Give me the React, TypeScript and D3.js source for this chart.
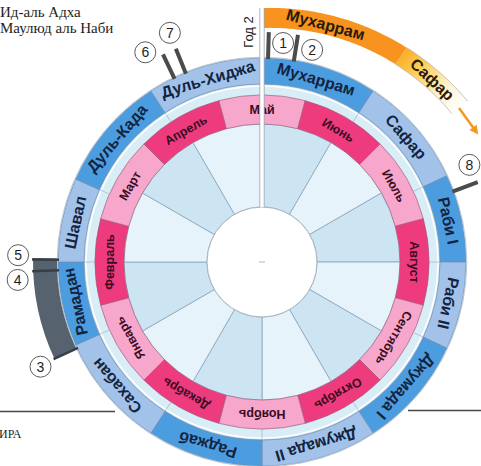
import React, { useEffect, useRef } from 'react';
import * as d3 from 'd3';

// Gregorian months in the pink ring, clockwise from the top
const GREGORIAN = ['Май', 'Июнь', 'Июль', 'Август', 'Сентябрь', 'Октябрь', 'Ноябрь', 'Декабрь', 'Январь', 'Февраль', 'Март', 'Апрель'];
// Hijri months in the blue ring and their edges (degrees clockwise from the top)
const HIJRI = ['Мухаррам', 'Сафар', 'Раби I', 'Раби II', 'Джумада I', 'Джумада II', 'Раджаб', 'Сахабан', 'Рамадан', 'Шавал', 'Дуль-Када', 'Дуль-Хиджа'];
const HIJRI_EDGES = [0, 33, 65, 90, 115, 147, 180, 213, 246, 270, 294, 327, 360];
// start of the second lunar year (outer orange band)
const YEAR2 = ['Мухаррам', 'Сафар'];
const YEAR2_EDGES = [0, 34, 52];
// the dark Ramadan block
const RAMADAN_SPAN = [245, 271];
// numbered events: bar angle, label angle, label distance
const MARKERS = [
  { n: '1', at: 1.7, labelAt: 5.5, labelR: 220 },
  { n: '2', at: 9, labelAt: 13.3, labelR: 218 },
  { n: '3', at: 245, labelAt: 244.7, labelR: 245 },
  { n: '4', at: 267.7, labelAt: 265.8, labelR: 245 },
  { n: '5', at: 270.6, labelAt: 271.6, labelR: 244 },
  { n: '6', at: 334.5, labelAt: 330.9, labelR: 240 },
  { n: '7', at: 338, labelAt: 338.1, labelR: 247 },
  { n: '8', at: 69.7, labelAt: 64.9, labelR: 229 },
];
const NOTES = ['Ид-аль Адха', 'Маулюд аль Наби'];

const SANS = 'Liberation Sans, Arial, sans-serif';
const NARROW = 'Liberation Sans Narrow, Arial Narrow, Liberation Sans, sans-serif';
const SERIF = 'Liberation Serif, Times New Roman, serif';

export default function App() {
  const ref = useRef<SVGSVGElement>(null);

  useEffect(() => {
    const svgEl = ref.current;
    if (!svgEl) return;
    const svg = d3.select(svgEl);
    svg.selectAll('*').remove();

    const cx = 262;
    const cy = 262;
    const ang = d3.scaleLinear().domain([0, 360]).range([0, 2 * Math.PI]);
    const R = { hole: 55, wedge: 138, pinkOut: 167, blueIn: 178, blueOut: 204, barIn: 205, barOut: 230 };

    // gradient lives in the centred group's coordinates
    const defs = svg.append('defs');
    const grad = defs
      .append('linearGradient')
      .attr('id', 'safar')
      .attr('gradientUnits', 'userSpaceOnUse')
      .attr('x1', 140)
      .attr('y1', -218)
      .attr('x2', 200)
      .attr('y2', -158);
    grad.append('stop').attr('offset', 0).attr('stop-color', '#f9a320');
    grad.append('stop').attr('offset', 0.3).attr('stop-color', '#fcc94a');
    grad.append('stop').attr('offset', 0.7).attr('stop-color', '#fef0c8');
    grad.append('stop').attr('offset', 1).attr('stop-color', '#ffffff');

    // notes top-left
    svg
      .append('g')
      .selectAll('text')
      .data(NOTES)
      .join('text')
      .attr('x', 0)
      .attr('y', (_, i) => 17 + i * 16)
      .attr('font-family', SERIF)
      .attr('font-size', 15)
      .attr('fill', '#1e1e1e')
      .text((d) => d);

    // bottom rules
    svg.append('line').attr('x1', 0).attr('x2', 115).attr('y1', 411.5).attr('y2', 411.5).attr('stroke', '#4a4646').attr('stroke-width', 1.5);
    svg.append('line').attr('x1', 408).attr('x2', 481).attr('y1', 410.5).attr('y2', 410.5).attr('stroke', '#4a4646').attr('stroke-width', 1.5);
    svg.append('text').attr('x', -1).attr('y', 438).attr('font-family', SERIF).attr('font-size', 12).attr('fill', '#1e1e1e').text('ИРА');

    const g = svg.append('g').attr('transform', `translate(${cx},${cy})`);
    const arc = d3.arc<any>();

    // inner wedges
    const wedges = d3.range(12).map((i) => ({ s: i * 30, e: (i + 1) * 30, i }));
    g.selectAll('path.wedge')
      .data(wedges)
      .join('path')
      .attr('class', 'wedge')
      .attr('d', (d) => arc({ innerRadius: R.hole, outerRadius: R.wedge, startAngle: ang(d.s), endAngle: ang(d.e) }))
      .attr('fill', (d) => (d.i % 2 === 0 ? '#cde4f3' : '#e6f3fa'))
      .attr('stroke', '#8aa3ba')
      .attr('stroke-width', 0.8);

    // pale band between pink and blue
    g.append('path')
      .attr('d', arc({ innerRadius: R.pinkOut, outerRadius: R.blueIn, startAngle: 0, endAngle: 2 * Math.PI }))
      .attr('fill', '#d9edf7')
      .attr('stroke', '#a9c0d0')
      .attr('stroke-width', 0.6);
    g.append('circle').attr('r', R.blueIn - 2).attr('fill', 'none').attr('stroke', '#ffffff').attr('stroke-width', 1.5);

    // pink ring (Gregorian)
    const greg = GREGORIAN.map((m, i) => ({ m, i, s: i * 30 - 15, e: i * 30 + 15 }));
    g.selectAll('path.greg')
      .data(greg)
      .join('path')
      .attr('class', 'greg')
      .attr('d', (d) => arc({ innerRadius: R.wedge, outerRadius: R.pinkOut, startAngle: ang(d.s), endAngle: ang(d.e) }))
      .attr('fill', (d) => (d.i % 2 === 0 ? '#f7a6cc' : '#ee3b7e'))
      .attr('stroke', '#9a5a76')
      .attr('stroke-width', 0.6);
    g.selectAll('text.greg')
      .data(greg)
      .join('text')
      .attr('class', 'greg')
      .attr('transform', (d) => `rotate(${(d.s + d.e) / 2}) translate(0,${-(R.wedge + R.pinkOut) / 2})`)
      .attr('text-anchor', 'middle')
      .attr('dy', '0.36em')
      .attr('font-family', NARROW)
      .attr('font-size', 12.5)
      .attr('font-weight', 700)
      .attr('fill', '#3a0c20')
      .text((d) => d.m);

    // blue ring (Hijri)
    const hijri = HIJRI.map((m, i) => ({ m, i, s: HIJRI_EDGES[i], e: HIJRI_EDGES[i + 1] }));
    g.selectAll('line.hedge')
      .data(HIJRI_EDGES.slice(1, -1))
      .join('line')
      .attr('class', 'hedge')
      .attr('x1', (d) => d3.pointRadial(ang(d), R.pinkOut)[0])
      .attr('y1', (d) => d3.pointRadial(ang(d), R.pinkOut)[1])
      .attr('x2', (d) => d3.pointRadial(ang(d), R.blueIn)[0])
      .attr('y2', (d) => d3.pointRadial(ang(d), R.blueIn)[1])
      .attr('stroke', '#9db3c4')
      .attr('stroke-width', 0.7);
    g.selectAll('path.hijri')
      .data(hijri)
      .join('path')
      .attr('class', 'hijri')
      .attr('d', (d) => arc({ innerRadius: R.blueIn, outerRadius: R.blueOut, startAngle: ang(d.s), endAngle: ang(d.e) }))
      .attr('fill', (d) => (d.i % 2 === 0 ? '#4c9de0' : '#a2c2ea'))
      .attr('stroke', '#6d8db0')
      .attr('stroke-width', 0.7);
    g.append('circle').attr('r', R.blueOut + 0.8).attr('fill', 'none').attr('stroke', '#b9c6d2').attr('stroke-width', 1);
    g.selectAll('text.hijri')
      .data(hijri)
      .join('text')
      .attr('class', 'hijri')
      .attr('transform', (d) => `rotate(${(d.s + d.e) / 2}) translate(0,${-(R.blueIn + R.blueOut) / 2})`)
      .attr('text-anchor', 'middle')
      .attr('dy', '0.36em')
      .attr('font-family', NARROW)
      .attr('font-size', 16)
      .attr('font-weight', 700)
      .attr('fill', '#132440')
      .text((d) => d.m);

    // center hole
    g.append('circle').attr('r', R.hole).attr('fill', '#ffffff').attr('stroke', '#a9b4bf').attr('stroke-width', 1);
    g.append('line').attr('x1', -3).attr('x2', 3).attr('stroke', '#9aa').attr('stroke-width', 0.8);

    // Ramadan block
    g.append('path')
      .attr('d', arc({ innerRadius: R.barIn, outerRadius: R.barOut - 1, startAngle: ang(RAMADAN_SPAN[0]), endAngle: ang(RAMADAN_SPAN[1]) }))
      .attr('fill', '#56636f');

    // year 2 band
    const rIn = (a: number) => 234 + (7 * a) / 52;
    const band = d3
      .areaRadial<number>()
      .angle((a) => ang(a))
      .innerRadius((a) => rIn(a))
      .outerRadius((a) => rIn(a) + 20);
    const year2 = YEAR2.map((m, i) => ({ m, i, s: YEAR2_EDGES[i], e: YEAR2_EDGES[i + 1] }));
    g.selectAll('path.y2')
      .data(year2)
      .join('path')
      .attr('class', 'y2')
      .attr('d', (d) => band(d3.range(d.s, d.e + 0.01, 0.5)))
      .attr('fill', (d) => (d.i === 0 ? '#f7931e' : 'url(#safar)'));
    const edge = d3.lineRadial<number>().angle((a) => ang(a));
    [0, 20].forEach((off) => {
      g.append('path')
        .attr('d', edge.radius((a) => rIn(a) + off)(d3.range(YEAR2_EDGES[1], YEAR2_EDGES[2] + 0.01, 0.5)))
        .attr('fill', 'none')
        .attr('stroke', '#b4b4b4')
        .attr('stroke-width', 0.8);
    });
    g.selectAll('text.y2')
      .data(year2)
      .join('text')
      .attr('class', 'y2')
      .attr('transform', (d) => {
        const mid = d.i === 0 ? 15 : 43;
        return `rotate(${mid}) translate(0,${-(rIn(mid) + 10)})`;
      })
      .attr('text-anchor', 'middle')
      .attr('dy', '0.36em')
      .attr('font-family', NARROW)
      .attr('font-size', 16)
      .attr('font-weight', 700)
      .attr('fill', '#2a1a08')
      .text((d) => d.m);

    // direction arrow
    const a0 = d3.pointRadial(ang(52), 250);
    const a1 = d3.pointRadial(ang(59.5), 251);
    const dir = Math.atan2(a1[1] - a0[1], a1[0] - a0[0]);
    g.append('line')
      .attr('x1', a0[0])
      .attr('y1', a0[1])
      .attr('x2', a1[0] - 6 * Math.cos(dir))
      .attr('y2', a1[1] - 6 * Math.sin(dir))
      .attr('stroke', '#f39a1e')
      .attr('stroke-width', 2.5);
    g.append('path')
      .attr('d', 'M0,0 L-9,-4.5 L-9,4.5 Z')
      .attr('transform', `translate(${a1[0]},${a1[1]}) rotate(${(dir * 180) / Math.PI})`)
      .attr('fill', '#f39a1e');

    // year divider
    const divTop = -(cy - 8);
    g.append('rect').attr('x', -2.2).attr('y', divTop).attr('width', 4.4).attr('height', -divTop - R.hole).attr('fill', '#ffffff');
    [-2.2, 2.2].forEach((x) =>
      g.append('line').attr('x1', x).attr('x2', x).attr('y1', divTop).attr('y2', -R.hole).attr('stroke', '#8e9aa6').attr('stroke-width', 0.7)
    );
    g.append('text')
      .attr('transform', `translate(-14,${divTop + 24}) rotate(-90)`)
      .attr('text-anchor', 'middle')
      .attr('dy', '0.36em')
      .attr('font-family', SANS)
      .attr('font-size', 13)
      .attr('fill', '#1e1e1e')
      .text('Год 2');

    // markers
    g.selectAll('line.bar')
      .data(MARKERS)
      .join('line')
      .attr('class', 'bar')
      .attr('x1', (d) => d3.pointRadial(ang(d.at), R.barIn - 2)[0])
      .attr('y1', (d) => d3.pointRadial(ang(d.at), R.barIn - 2)[1])
      .attr('x2', (d) => d3.pointRadial(ang(d.at), R.barOut)[0])
      .attr('y2', (d) => d3.pointRadial(ang(d.at), R.barOut)[1])
      .attr('stroke', (d) => (['3', '4', '5'].includes(d.n) ? '#383e45' : '#4b4b4b'))
      .attr('stroke-width', (d) => (['3', '4', '5'].includes(d.n) ? 2.5 : 4));
    const lab = g
      .selectAll('g.mark')
      .data(MARKERS)
      .join('g')
      .attr('class', 'mark')
      .attr('transform', (d) => `translate(${d3.pointRadial(ang(d.labelAt), d.labelR).join(',')})`);
    lab.append('circle').attr('r', 10.5).attr('fill', '#ffffff').attr('stroke', '#5a5a5a').attr('stroke-width', 1);
    lab
      .append('text')
      .attr('text-anchor', 'middle')
      .attr('dy', '0.36em')
      .attr('font-family', SANS)
      .attr('font-size', 14)
      .attr('fill', '#1e1e1e')
      .text((d) => d.n);
  }, []);

  return (
    <svg
      ref={ref}
      width={481}
      height={466}
      style={{ position: 'absolute', left: 0, top: 0, background: '#ffffff' }}
      aria-label="Lunar and solar calendar wheel"
    />
  );
}
